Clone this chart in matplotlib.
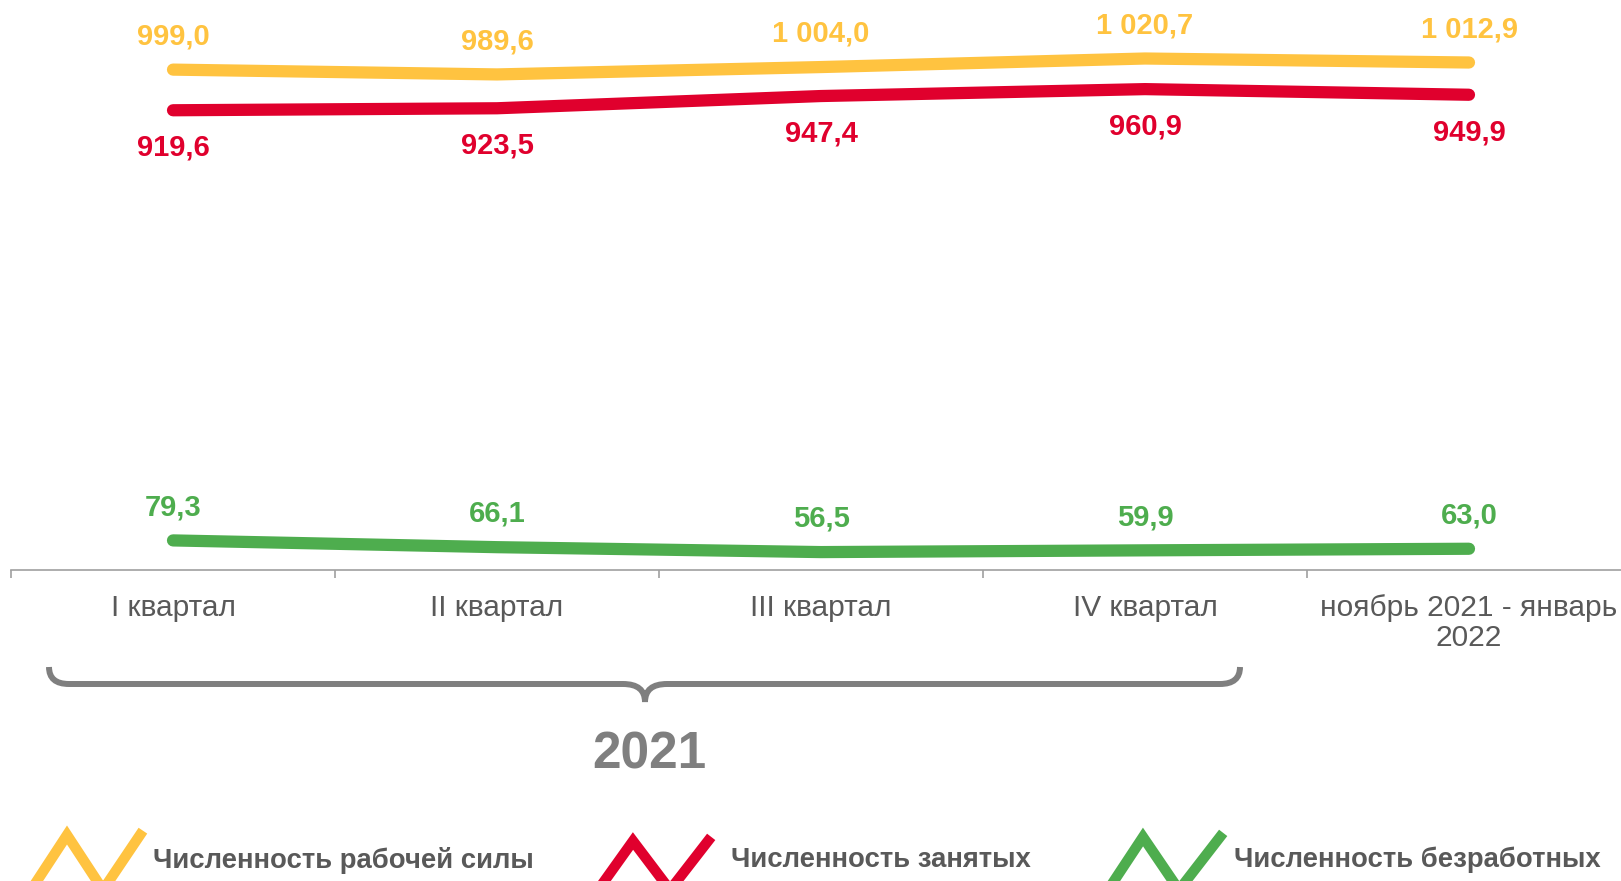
import matplotlib
matplotlib.use("Agg")
import matplotlib.pyplot as plt
from matplotlib.path import Path
from matplotlib.patches import PathPatch
from matplotlib.lines import Line2D

plt.rcParams['font.family'] = ['Liberation Sans', 'DejaVu Sans']

# данные
periods = ["I квартал", "II квартал", "III квартал", "IV квартал",
           "ноябрь 2021 - январь\n2022"]
labour_force = [999.0, 989.6, 1004.0, 1020.7, 1012.9]
employed = [919.6, 923.5, 947.4, 960.9, 949.9]
unemployed = [79.3, 66.1, 56.5, 59.9, 63.0]
series_names = ["Численность рабочей силы", "Численность занятых",
                "Численность безработных"]
year_label = "2021"

YELLOW = "#FFC340"
RED = "#E0002D"
GREEN = "#4EAD4E"
GRAY_TXT = "#595959"
W, H = 1621, 881


def fmt(v):
    s = "{:,.1f}".format(v)
    return s.replace(",", " ").replace(".", ",")


def fx(x):
    return x / W


def fy(y):
    return 1 - y / H


fig = plt.figure(figsize=(16.21, 8.81), dpi=100)
ax = fig.add_axes([11 / W, fy(570), 1620 / W, 570 / H])

x = list(range(len(periods)))
series = [(labour_force, YELLOW, 24), (employed, RED, -27), (unemployed, GREEN, 24)]
for vals, col, off in series:
    ax.plot(x, vals, color=col, lw=8.8, solid_capstyle='round',
            solid_joinstyle='round', clip_on=False, zorder=3)
    for xi, v in zip(x, vals):
        ax.annotate(fmt(v), (xi, v), xytext=(0, off), textcoords='offset points',
                    ha='center', va='center', fontsize=21, fontweight='bold',
                    color=col, annotation_clip=False)

ax.set_xlim(-0.5, len(periods) - 0.5)
ax.set_ylim(21.5, 1135)
for s in ['top', 'right', 'left']:
    ax.spines[s].set_visible(False)
ax.spines['bottom'].set_color('#A0A0A0')
ax.spines['bottom'].set_linewidth(1.2)
ax.set_yticks([])
ax.set_xticks(x)
ax.set_xticklabels(periods, fontsize=21.5, color=GRAY_TXT, linespacing=1.1)
ax.tick_params(axis='x', which='major', length=0, pad=17)
ax.set_xticks([i - 0.5 for i in x], minor=True)
ax.tick_params(axis='x', which='minor', length=6, width=1.2, color='#A0A0A0')
ax.patch.set_alpha(0)

# фигурная скобка под кварталами 2021
pts = [(49, 667), (49, 684), (69, 684), (623, 684), (645, 684), (645, 702),
       (645, 684), (667, 684), (1220, 684), (1240, 684), (1240, 667)]
codes = [Path.MOVETO, Path.CURVE3, Path.CURVE3, Path.LINETO, Path.CURVE3, Path.CURVE3,
         Path.CURVE3, Path.CURVE3, Path.LINETO, Path.CURVE3, Path.CURVE3]
brace = Path([(fx(a), fy(b)) for a, b in pts], codes)
fig.patches.append(PathPatch(brace, transform=fig.transFigure, fill=False,
                             edgecolor='#7F7F7F', lw=4.3, capstyle='butt'))
fig.text(fx(649), fy(755), year_label, ha='center', va='center', fontsize=37,
         fontweight='bold', color='#7F7F7F')

# легенда
icons = [
    ([31, 67, 103, 140], 835, YELLOW, 153),
    ([598, 633, 670, 708], 841, RED, 731),
    ([1108, 1143, 1179, 1220], 837, GREEN, 1234),
]
for (xs, top, col, tx), name in zip(icons, series_names):
    ys = [890, top, 890, top]
    fig.add_artist(Line2D([fx(v) for v in xs], [fy(v) for v in ys],
                          transform=fig.transFigure, color=col, lw=7.5,
                          solid_joinstyle='miter'))
    fig.text(fx(tx), fy(860), name, ha='left', va='center', fontsize=19.8,
             fontweight='bold', color=GRAY_TXT)

fig.savefig("out.png", dpi=100)
